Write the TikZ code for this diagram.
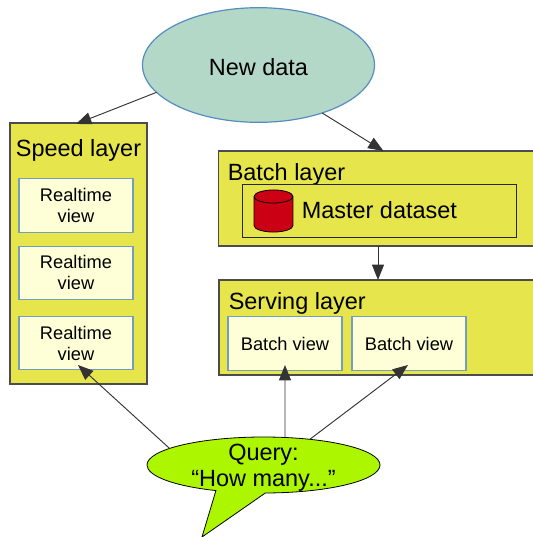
\documentclass[tikz,border=0pt]{standalone}
\usepackage{fontspec}
\setmainfont{Liberation Sans}
\usetikzlibrary{arrows.meta, positioning, shapes.geometric, shapes.callouts}

\definecolor{layerfill}{RGB}{230,229,76}
\definecolor{viewfill}{RGB}{255,255,215}
\definecolor{viewline}{RGB}{114,159,190}
\definecolor{datafill}{RGB}{180,216,200}
\definecolor{dataline}{RGB}{85,142,190}
\definecolor{queryfill}{RGB}{172,247,0}
\definecolor{drumfill}{RGB}{204,0,20}

\begin{document}
\begin{tikzpicture}[x=0.75pt, y=-0.75pt, node distance={10.5pt},
	big/.style = {font=\fontsize{17.6}{19.5}\selectfont},
	layer/.style = {draw=black!70, fill=layerfill, line width=0.8pt, inner sep=0pt, outer sep=0pt},
	view/.style = {draw=viewline, fill=viewfill, line width=0.9pt, inner sep=0pt, outer sep=0pt,
		minimum width=85.5pt, minimum height=40pt, align=center,
		font=\fontsize{13.7}{15.8}\selectfont},
	flow/.style = {-{Triangle[length=11.5pt, width=9pt]}, draw=black!80, line width=0.7pt}]
	\clip (0,0) rectangle (533,537);

	\node[ellipse, draw=dataline, fill=datafill, line width=0.9pt, inner sep=0pt, outer sep=0pt,
		minimum width=174pt, minimum height=86pt, big, text height=15.6pt, text depth=0pt] (newdata) at (258.5,65) {New data};

	% speed side
	\node[layer, minimum width=102.75pt, minimum height=195.75pt] (speed) at (78.5,253.5) {};
	\node[big] (speedtitle) at (78.5,150) {Speed layer};
	\node[view] (rt1) at (76,205.5) {Realtime\\view};
	\node[view] (rt2) [below=of rt1] {Realtime\\view};
	\node[view] (rt3) [below=12.75pt of rt2] {Realtime\\view};

	% batch side, runs off the right edge
	\node[layer, minimum width=247.5pt, minimum height=71.25pt] (batch) at (383.5,198.5) {};
	\node[big, anchor=west, inner sep=0pt] (batchtitle) at (227.5,174) {Batch layer};
	\node[draw=black!85, line width=0.7pt, inner sep=0pt, outer sep=0pt,
		minimum width=206pt, minimum height=39.75pt] (master) at (379.5,210.5) {};
	\draw[draw=black, fill=drumfill, line width=0.6pt]
	(254,196.5) -- (254,225.5) arc[start angle=180, end angle=360, x radius=14.6pt, y radius=4.9pt]
	-- (293,196.5) arc[start angle=0, end angle=180, x radius=14.6pt, y radius=4.9pt] -- cycle
	(254,196.5) arc[start angle=180, end angle=360, x radius=14.6pt, y radius=4.9pt];
	\node[big, anchor=west, inner sep=0pt] (mastertext) at (301.5,210.5) {Master dataset};

	\node[layer, minimum width=247.5pt, minimum height=71.25pt] (serving) at (384,327.5) {};
	\node[big, anchor=west, inner sep=0pt] (servingtitle) at (228.5,303) {Serving layer};
	\node[view] (bv1) at (285,343.5) {Batch view};
	\node[view, right=7.5pt of bv1] (bv2) {Batch view};

	\node[ellipse callout, callout absolute pointer={(202,537)}, callout pointer arc=25,
		draw=black, fill=queryfill, line width=0.6pt, inner sep=0pt, outer sep=0pt,
		minimum width=174.75pt, minimum height=42pt] (query) at (263.5,465) {};
	\node[big, align=center, inner sep=0pt] (querytext) at (263.5,468) {Query:\\``How many...''};

	\coordinate (rttip) at (78,365);
	\coordinate (bvtip1) at (285,365);
	\coordinate (bvtip2) at (408,365);
	\coordinate (batchdrop) at (378,246);
	\coordinate (servingtop) at (378,280);

	\path
	(newdata.195) edge[flow, shorten >=-2pt] (speed.north)
	(newdata.-37) edge[flow] (batch.north)
	(batchdrop) edge[flow] (servingtop)
	(query.170) edge[flow] (rttip)
	(query.52) edge[flow] (bvtip1)
	(query.29) edge[flow] (bvtip2);
\end{tikzpicture}
\end{document}
